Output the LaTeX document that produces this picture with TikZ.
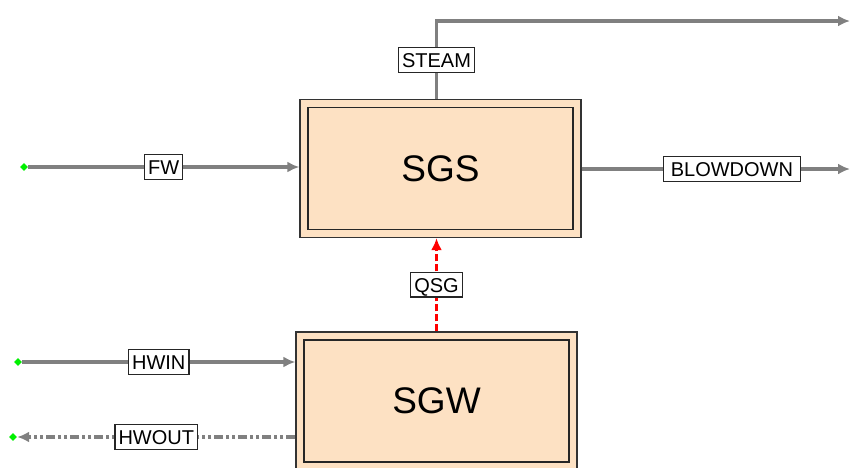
\documentclass[tikz,border=0pt]{standalone}
\usepackage{fontspec}
\setmainfont{Liberation Sans}
\usetikzlibrary{arrows.meta,shapes.geometric}
\definecolor{peche}{HTML}{FDE1C3}
\definecolor{grisflux}{HTML}{808080}
\definecolor{portvert}{HTML}{00F000}
\definecolor{chaleur}{HTML}{FF0000}
\tikzset{
  unitbox/.style={rectangle, draw=black!80, line width=1.3pt, fill=peche,
                  minimum width=281pt, minimum height=138pt, inner sep=0pt},
  unitinner/.style={rectangle, draw=black!85, line width=1.3pt,
                    minimum width=265pt, minimum height=122pt, font=\fontsize{37}{40}\selectfont},
  tag/.style={rectangle, solid, draw=black!85, line width=1.2pt, fill=white, font=\fontsize{20}{22}\selectfont,
              inner xsep=3.5pt, inner ysep=5pt, text height=14.5pt, text depth=0pt},
  port/.style={diamond, fill=portvert, inner sep=0pt, minimum size=8pt},
  flux/.style={-{Latex[length=12pt,width=11pt]}, line width=3.5pt, draw=grisflux},
  fluxret/.style={flux, dash pattern=on 9pt off 3pt on 3pt off 3pt on 3pt off 3pt},
  qflux/.style={-{Latex[length=12pt,width=11pt]}, line width=3.5pt, draw=chaleur, dash pattern=on 7pt off 3pt},
}
\begin{document}
\begin{tikzpicture}[x=1pt, y=-1pt]
  \useasboundingbox (0,0) rectangle (851,467);
  % unites
  \node[unitbox] (sgs) at (440.5,168.5) {};
  \node[unitinner] (sgsin) at (sgs) {SGS};
  \node[unitbox] (sgw) at (436.5,401) {};
  \node[unitinner] (sgwin) at (sgw) {SGW};
  % ports
  \node[port] (fwsrc) at (24,167) {};
  \node[port] (hwinsrc) at (18,362) {};
  \node[port] (hwoutsnk) at (13,437) {};
  \coordinate (steamend) at (850,21);
  \coordinate (bdend) at (850,169);
  % flux
  \draw[flux] (fwsrc) -- (fwsrc -| sgs.west) node[tag, midway] {FW};
  \draw[flux] (sgs.north -| sgw.north) |- (steamend) node[tag, pos=0.25] {STEAM};
  \draw[flux] (bdend -| sgs.east) -- (bdend) node[tag, pos=0.56, minimum width=137pt] {BLOWDOWN};
  \draw[qflux] (sgw.north) -- (sgw.north |- sgs.south) node[tag, midway] {QSG};
  \draw[flux] (hwinsrc) -- (hwinsrc -| sgw.west) node[tag, midway] {HWIN};
  \draw[fluxret] (hwoutsnk -| sgw.west) -- (hwoutsnk) node[tag, midway] {HWOUT};
\end{tikzpicture}
\end{document}
